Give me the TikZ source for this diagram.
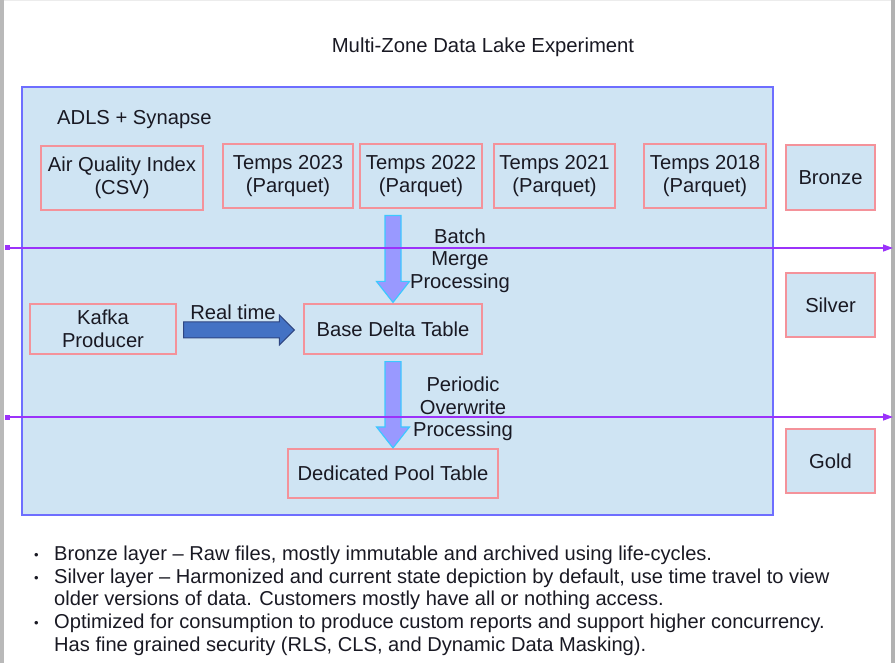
\documentclass[tikz,border=0pt]{standalone}
\usepackage{fontspec}
\setmainfont{Liberation Sans}
\usetikzlibrary{arrows.meta,calc}
\definecolor{lakefill}{RGB}{207,228,243}
\definecolor{lakeborder}{RGB}{110,110,255}
\definecolor{boxborder}{RGB}{244,146,154}
\definecolor{zoneline}{RGB}{155,50,250}
\definecolor{downfill}{RGB}{153,153,255}
\definecolor{downborder}{RGB}{60,200,255}
\definecolor{rtfill}{RGB}{68,114,196}
\definecolor{rtborder}{RGB}{47,70,130}
\definecolor{textcol}{RGB}{25,25,35}
\begin{document}
\begin{tikzpicture}[x=1pt,y=-1pt,
  every node/.style={text=textcol, font=\fontsize{20.2}{23}\selectfont},
  databox/.style={draw=boxborder, line width=1.2pt, fill=lakefill, inner sep=0pt, align=center},
  lake/.style={draw=lakeborder, line width=1.3pt, fill=lakefill},
  zonesep/.style={draw=zoneline, line width=1.3pt, {Square[length=5pt,width=5pt]}-{Triangle[length=10pt,width=7pt]}},
  bigdown/.style={draw=downborder, line width=1.2pt, fill=downfill},
  rtarrow/.style={draw=rtborder, line width=1pt, fill=rtfill},
  plain/.style={inner sep=0pt, align=center}
]
\useasboundingbox (0,0) rectangle (895,663);
% page frame
\fill[gray!55] (0,0) rectangle (4,663);
\fill[gray!60] (891,0) rectangle (895,663);
\fill[gray!15] (4,0) rectangle (891,1.5);

\node[plain, font=\fontsize{20.3}{23}\selectfont] (title) at (483,47) {Multi-Zone Data Lake Experiment};

\draw[lake] (22,87) rectangle (773,515);
\node[plain, anchor=west] (adls) at (57,120) {ADLS + Synapse};

\node[databox, minimum width=162, minimum height=64] (aqi) at (122,178) {Air Quality Index\\(CSV)};
\node[databox, minimum width=130, minimum height=64] (t23) at (288,176) {Temps 2023\\(Parquet)};
\node[databox, minimum width=122, minimum height=64] (t22) at (421,176) {Temps 2022\\(Parquet)};
\node[databox, minimum width=121, minimum height=64] (t21) at (554.5,176) {Temps 2021\\(Parquet)};
\node[databox, minimum width=122, minimum height=64] (t18) at (705,176) {Temps 2018\\(Parquet)};

\node[databox, minimum width=89, minimum height=65] (bronze) at (830.5,177.5) {Bronze};
\node[databox, minimum width=89, minimum height=64] (silver) at (830.5,305) {Silver};
\node[databox, minimum width=89, minimum height=64] (gold) at (830.5,461) {Gold};

\node[databox, minimum width=146, minimum height=50] (kafka) at (103,329) {Kafka\\Producer};
\node[databox, minimum width=178, minimum height=50] (base) at (393,329) {Base Delta Table};
\node[databox, minimum width=210, minimum height=49] (pool) at (393,473.5) {Dedicated Pool Table};

% batch arrow
\coordinate (a1top) at ($(base.north |- t22.south)+(0,7)$);
\coordinate (a1tip) at ($(base.north)+(0,-1)$);
\draw[bigdown] let \p1=(a1top), \p2=(a1tip) in
  (\x1-8pt,\y1) -- (\x1+8pt,\y1) -- (\x1+8pt,\y2+21pt) -- (\x1+16.5pt,\y2+21pt)
  -- (\x2,\y2) -- (\x1-16.5pt,\y2+21pt) -- (\x1-8pt,\y2+21pt) -- cycle;
% overwrite arrow
\coordinate (a2top) at ($(base.south)+(0,7)$);
\coordinate (a2tip) at ($(pool.north)+(0,-0.5)$);
\draw[bigdown] let \p1=(a2top), \p2=(a2tip) in
  (\x1-8pt,\y1) -- (\x1+8pt,\y1) -- (\x1+8pt,\y2+21pt) -- (\x1+16.5pt,\y2+21pt)
  -- (\x2,\y2) -- (\x1-16.5pt,\y2+21pt) -- (\x1-8pt,\y2+21pt) -- cycle;
% real time arrow
\coordinate (rtstart) at ($(kafka.east)+(7,1)$);
\coordinate (rttip) at ($(base.west |- rtstart)+(-9,0)$);
\draw[rtarrow] let \p1=(rtstart), \p2=(rttip) in
  (\x1,\y1+8pt) -- (\x2-15pt,\y1+8pt) -- (\x2-15pt,\y1+15pt) -- (\x2,\y2)
  -- (\x2-15pt,\y1-15pt) -- (\x2-15pt,\y1-8pt) -- (\x1,\y1-8pt) -- cycle;

% zone separators
\coordinate (s1a) at (5,248);
\coordinate (s1b) at (893,248);
\coordinate (s2a) at (5,417);
\coordinate (s2b) at (893,417);
\draw[zonesep] (s1a) -- (s1b);
\draw[zonesep] (s2a) -- (s2b);

\node[plain, font=\fontsize{20.2}{22.5}\selectfont] (batch) at (460,260.5) {Batch\\Merge\\Processing};
\node[plain, font=\fontsize{20.2}{22.5}\selectfont] (periodic) at (463,409) {Periodic\\Overwrite\\Processing};
\node[plain] (rt) at (233,312) {Real time};

\node[plain, anchor=north west, align=left, font=\fontsize{20.1}{22.75}\selectfont] (notes) at (34,545.5) {%
\makebox[20pt][l]{\raisebox{1pt}{\fontsize{13}{13}\selectfont•}}Bronze layer – Raw files, mostly immutable and archived using life-cycles.\\
\makebox[20pt][l]{\raisebox{1pt}{\fontsize{13}{13}\selectfont•}}Silver layer – Harmonized and current state depiction by default, use time travel to view\\
\hspace*{20pt}older versions of data. Customers mostly have all or nothing access.\\
\makebox[20pt][l]{\raisebox{1pt}{\fontsize{13}{13}\selectfont•}}Optimized for consumption to produce custom reports and support higher concurrency.\\
\hspace*{20pt}Has fine grained security (RLS, CLS, and Dynamic Data Masking).};
\end{tikzpicture}
\end{document}
